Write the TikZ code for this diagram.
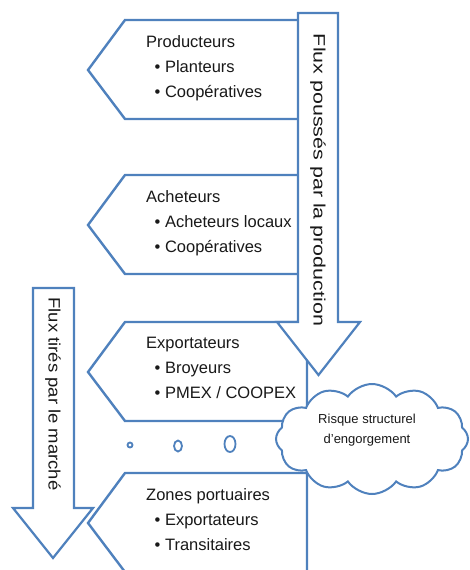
\documentclass[tikz,border=0pt]{standalone}
\usepackage{graphicx}
\usepackage{fontspec}
\setmainfont{Liberation Sans}
\usepackage{tikz}
\usetikzlibrary{shapes.symbols}
\definecolor{outline}{RGB}{79,129,189}
\definecolor{ink}{RGB}{25,25,25}

\begin{document}
\begin{tikzpicture}[x=1pt,y=-1pt,
chevron/.style={draw=outline,fill=white,line width=2.4pt,line join=miter},
flow/.style={draw=outline,fill=white,line width=2.2pt},
label/.style={text=ink,align=left,inner sep=0pt,anchor=west,font=\fontsize{16.5}{25}\selectfont},
vlabel/.style={text=ink,inner sep=0pt,rotate=-90,font=\fontsize{16.5}{20}\selectfont},
bubble/.style={draw=outline,fill=white,line width=1.8pt}
]
\useasboundingbox (0,0) rectangle (470,570);

% The chevrons
\foreach \t in {20,175,322,473}
  \path[chevron] (307,\t) -- (125,\t) -- (88,\t+50) -- (125,\t+99) -- (307,\t+99) -- cycle;

% The arrows
\path[flow] (298,13) -- (338,13) -- (338,322) -- (360,322) -- (318.5,375) -- (277,322) -- (298,322) -- cycle;
\path[flow] (33,288) -- (74,288) -- (74,508) -- (93,508) -- (53,558) -- (13,508) -- (33,508) -- cycle;

% The labels
\node[label] (prod) at (146,68) {Producteurs\\\hspace{8.5pt}\textbullet\ Planteurs\\\hspace{8.5pt}\textbullet\ Coopératives};
\node[label] (buy) at (146,223) {Acheteurs\\\hspace{8.5pt}\textbullet\ Acheteurs locaux\\\hspace{8.5pt}\textbullet\ Coopératives};
\node[label] (exp) at (146,368) {Exportateurs\\\hspace{8.5pt}\textbullet\ Broyeurs\\\hspace{8.5pt}\textbullet\ PMEX / COOPEX};
\node[label] (port) at (146,520) {Zones portuaires\\\hspace{8.5pt}\textbullet\ Exportateurs\\\hspace{8.5pt}\textbullet\ Transitaires};
\node[vlabel] (push) at (318,180) {\scalebox{1.3}[1]{Flux poussés par la production}};
\node[vlabel] (pull) at (53,394) {\scalebox{1.12}[1]{Flux tirés par le marché}};

% The dots
\draw[bubble] (130,445) circle[radius=2.5];
\draw[bubble] (178,446) circle[x radius=4,y radius=5.5];
\draw[bubble] (230,444) circle[x radius=5.5,y radius=8];

% The cloud
\node[cloud,cloud puffs=12,cloud puff arc=110,aspect=1.8,draw=outline,fill=white,line width=2pt,minimum width=192pt,minimum height=110pt] (risk) at (372,439) {};
\node[text=ink,align=center,inner sep=0pt,font=\fontsize{13}{20}\selectfont] (risktext) at (367,430) {Risque structurel\\d'engorgement};
\end{tikzpicture}
\end{document}
